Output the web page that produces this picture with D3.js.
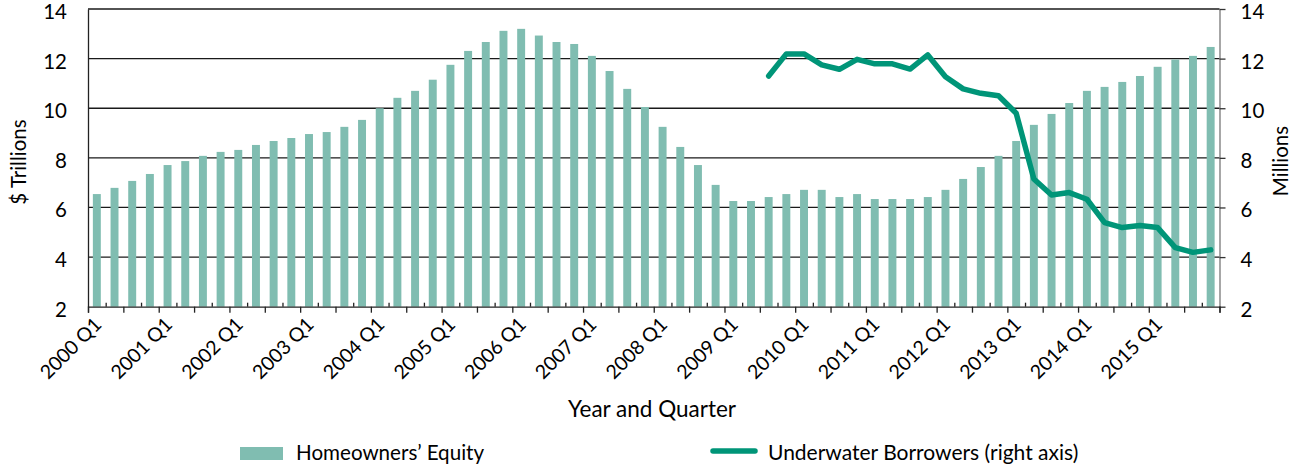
<!DOCTYPE html>
<html>
<head>
<meta charset="utf-8">
<script src="https://cdn.jsdelivr.net/npm/d3@7"></script>
<style>
  body { margin: 0; background: #fff; }
  svg text { font-family: Lato, "Open Sans", sans-serif; fill: #000; }
</style>
</head>
<body>
<svg id="chart"></svg>
<script>
let width = 1296
let height = 467

// categories
let years = ['2000','2001','2002','2003','2004','2005','2006','2007','2008','2009','2010','2011','2012','2013','2014','2015']
let quarterNames = ['Q1','Q2','Q3','Q4']
let quarters = []
years.forEach(y => quarterNames.forEach(q => quarters.push(y + ' ' + q)))

// Homeowners' equity, $ trillions (left axis)
let equity = [
  6.54, 6.79, 7.07, 7.35,
  7.71, 7.87, 8.08, 8.24,
  8.32, 8.52, 8.68, 8.80,
  8.96, 9.04, 9.25, 9.53,
  10.0, 10.42, 10.70, 11.15,
  11.75, 12.31, 12.67, 13.12,
  13.20, 12.93, 12.67, 12.59,
  12.11, 11.50, 10.78, 10.05,
  9.25, 8.44, 7.71, 6.91,
  6.26, 6.26, 6.42, 6.54,
  6.71, 6.71, 6.42, 6.54,
  6.34, 6.34, 6.34, 6.42,
  6.71, 7.15, 7.63, 8.08,
  8.68, 9.33, 9.77, 10.21,
  10.70, 10.86, 11.06, 11.30,
  11.67, 11.96, 12.11, 12.47
]

// Underwater borrowers, millions (right axis), from 2009 Q3
let underwaterQuarters = quarters.slice(quarters.indexOf('2009 Q3'))
let underwater = [
  11.30, 12.19,
  12.19, 11.75, 11.57, 11.97,
  11.79, 11.79, 11.58, 12.15,
  11.27, 10.78, 10.60, 10.50,
  9.80, 7.15, 6.50, 6.60,
  6.33, 5.39, 5.19, 5.27,
  5.19, 4.38, 4.19, 4.29
]

let leftTicks = [2, 4, 6, 8, 10, 12, 14]
let rightTicks = [2, 4, 6, 8, 10, 12, 14]

let plotLeft = 88
let plotRight = 1219.5
let plotTop = 9
let plotBottom = 306.7

let svg = d3.select('#chart')
  .attr('width', width)
  .attr('height', height)

let xScale = d3.scaleBand()
  .domain(quarters)
  .range([plotLeft, plotRight])
  .paddingInner(0.55)
  .paddingOuter(0.275)

let xIndex = d3.scaleLinear()
  .domain([0, quarters.length])
  .range([plotLeft, plotRight])

let yLeft = d3.scaleLinear().domain([2, 14]).range([plotBottom, plotTop])
let yRight = d3.scaleLinear().domain([2, 14]).range([plotBottom, plotTop])

// gridlines
svg.append('g')
  .selectAll('line')
  .data(leftTicks.filter(d => d > 2))
  .enter()
  .append('line')
  .attr('x1', plotLeft)
  .attr('x2', plotRight)
  .attr('y1', d => yLeft(d))
  .attr('y2', d => yLeft(d))
  .attr('stroke', '#1a1a1a')
  .attr('stroke-width', 1.3)

// bars
svg.append('g')
  .selectAll('rect')
  .data(equity)
  .enter()
  .append('rect')
  .attr('x', (d, i) => xScale(quarters[i]))
  .attr('width', xScale.bandwidth())
  .attr('y', d => yLeft(d))
  .attr('height', d => yLeft(2) - yLeft(d))
  .attr('fill', '#80bdb1')

// left axis
let leftAxis = d3.axisLeft(yLeft).tickValues(leftTicks).tickSize(0).tickPadding(21)
let gl = svg.append('g')
  .attr('transform', 'translate(' + plotLeft + ',0)')
  .call(leftAxis)
gl.select('.domain').attr('stroke', '#222').attr('stroke-width', 1.3)
gl.selectAll('text').style('font-size', '20.5px').attr('dy', '0.46em')

// right axis
let rightAxis = d3.axisRight(yRight).tickValues(rightTicks).tickSizeInner(6).tickSizeOuter(0).tickPadding(15)
let gr = svg.append('g')
  .attr('transform', 'translate(' + plotRight + ',0)')
  .call(rightAxis)
gr.select('.domain').attr('stroke', '#777').attr('stroke-width', 1.3)
gr.selectAll('line').attr('stroke', '#333').attr('stroke-width', 1.3)
gr.selectAll('text').style('font-size', '20.5px').attr('dy', '0.46em')

// bottom axis: major ticks every 2 quarters (outside), minor between (inside)
let majorAxis = d3.axisBottom(xIndex)
  .tickValues(d3.range(0, quarters.length + 1, 2))
  .tickSize(6)
  .tickFormat('')
let gx = svg.append('g')
  .attr('transform', 'translate(0,' + plotBottom + ')')
  .call(majorAxis)
gx.select('.domain').attr('stroke', '#222').attr('stroke-width', 1.3)
gx.selectAll('line').attr('stroke', '#222').attr('stroke-width', 1.3)

let minorAxis = d3.axisBottom(xIndex)
  .tickValues(d3.range(1, quarters.length, 2))
  .tickSize(-4)
  .tickFormat('')
let gm = svg.append('g')
  .attr('transform', 'translate(0,' + plotBottom + ')')
  .call(minorAxis)
gm.select('.domain').remove()
gm.selectAll('line').attr('stroke', '#222').attr('stroke-width', 1.3)

// rotated quarter labels
svg.append('g')
  .selectAll('text')
  .data(quarters.filter(q => q.endsWith('Q1')))
  .enter()
  .append('text')
  .attr('text-anchor', 'end')
  .attr('transform', d => 'translate(' + (xScale(d) + xScale.bandwidth() / 2 + 6) + ',' + (plotBottom + 19) + ') rotate(-45)')
  .style('font-size', '19.5px')
  .text(d => d)

// underwater line
let line = d3.line()
  .x((d, i) => xScale(underwaterQuarters[i]) + xScale.bandwidth() / 2)
  .y(d => yRight(d))

svg.append('path')
  .datum(underwater)
  .attr('d', line)
  .attr('fill', 'none')
  .attr('stroke', '#009578')
  .attr('stroke-width', 5.5)
  .attr('stroke-linejoin', 'round')
  .attr('stroke-linecap', 'round')

// axis titles
svg.append('text')
  .attr('transform', 'translate(26,162) rotate(-90)')
  .attr('text-anchor', 'middle')
  .style('font-size', '20.5px')
  .text('$ Trillions')

svg.append('text')
  .attr('transform', 'translate(1288,161) rotate(-90)')
  .attr('text-anchor', 'middle')
  .style('font-size', '20.5px')
  .text('Millions')

svg.append('text')
  .attr('x', 652)
  .attr('y', 417)
  .attr('text-anchor', 'middle')
  .style('font-size', '22.5px')
  .text('Year and Quarter')

// legend
let legend = svg.append('g')
legend.append('rect')
  .attr('x', 240).attr('y', 447)
  .attr('width', 43).attr('height', 13)
  .attr('fill', '#80bdb1')
legend.append('text')
  .attr('x', 296).attr('y', 460)
  .style('font-size', '20.6px')
  .text('Homeowners\u2019 Equity')
legend.append('line')
  .attr('x1', 713).attr('x2', 755)
  .attr('y1', 451).attr('y2', 451)
  .attr('stroke', '#009578')
  .attr('stroke-width', 5.5)
  .attr('stroke-linecap', 'round')
legend.append('text')
  .attr('x', 768).attr('y', 460)
  .style('font-size', '21px')
  .text('Underwater Borrowers (right axis)')
</script>
</body>
</html>
